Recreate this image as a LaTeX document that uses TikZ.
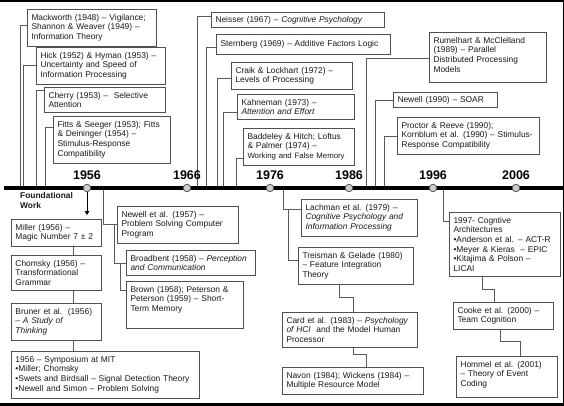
\documentclass[tikz,border=0pt]{standalone}
\usepackage{fontspec}
\setmainfont{Liberation Sans}
\usepackage{tikz}
\usetikzlibrary{arrows.meta, positioning, calc}
\definecolor{BoxGray}{RGB}{80,80,80}
\definecolor{LineGray}{RGB}{90,90,90}
\definecolor{DotGray}{RGB}{205,205,205}
\definecolor{InkGray}{RGB}{25,25,25}

\begin{document}
\begin{tikzpicture}[x=1pt, y=-1pt,
    bx/.style={draw=BoxGray, line width=0.8pt, anchor=north west, align=left,
      outer sep=0pt, text width=#1, inner xsep=4.5pt, inner ysep=5pt, text=InkGray,
      font=\fontsize{8.4}{9.7}\selectfont},
    conn/.style={draw=LineGray, line width=0.8pt},
    dot/.style={circle, draw=LineGray, fill=DotGray, line width=0.8pt,
      minimum size=7.5pt, inner sep=0pt},
    yearlbl/.style={font=\fontsize{12.5}{14}\selectfont\bfseries, text=black}]
  \useasboundingbox (0,0) rectangle (564,406);
  \fill[white] (0,0) rectangle (564,406);
  \fill[black] (0,0) rectangle (564,2.5);
  \fill[black] (0,402.5) rectangle (564,406);
  \draw[black, line width=1pt] (563,0) -- (563,406);

  % above the line
  \node[bx=120pt] (mack) at (27,9) {Mackworth (1948) -- Vigilance;\\Shannon \& Weaver (1949) --\\Information Theory};
  \node[bx=120pt] (hick) at (36,47) {Hick (1952) \& Hyman (1953) --\\Uncertainty and Speed of\\Information Processing};
  \node[bx=112pt] (cherry) at (44,87) {Cherry (1953) --\ \ Selective\\Attention};
  \node[bx=108pt] (fitts) at (53,116) {Fitts \& Seeger (1953); Fitts\\\& Deininger (1954) --\\Stimulus-Response\\Compatibility};
  \node[bx=164pt, inner ysep=4pt] (neisser) at (211,12) {Neisser (1967) -- \textit{Cognitive Psychology}};
  \node[bx=165pt, minimum height=20pt] (stern) at (216,34) {Sternberg (1969) -- Additive Factors Logic};
  \node[bx=112pt] (craik) at (231,62) {Craik \& Lockhart (1972) --\\Levels of Processing};
  \node[bx=108pt] (kahne) at (237,94) {Kahneman (1973) --\\\textit{Attention and Effort}};
  \node[bx=102pt] (badd) at (243,128) {Baddeley \& Hitch; Loftus\\\& Palmer (1974) --\\{\fontsize{7.8}{9.7}\selectfont Working and False Memory}};
  \node[bx=108pt, text depth=34.5pt] (rumel) at (429,32) {Rumelhart \& McClelland\\(1989) -- Parallel\\Distributed Processing\\Models};
  \node[bx=95pt, inner ysep=4pt] (newellb) at (393,92) {Newell (1990) -- SOAR};
  \node[bx=133pt] (proctor) at (397,117) {Proctor \& Reeve (1990);\\Kornblum et al. (1990) -- Stimulus-\\Response Compatibility};

  % below the line
  \node[bx=81pt] (miller) at (11,219) {Miller (1956) --\\Magic Number 7 ± 2};
  \node[bx=81pt] (chomsky) at (11,255) {Chomsky (1956) --\\Transformational\\Grammar};
  \node[bx=81pt] (bruner) at (11,303) {Bruner et al.\ \ (1956)\\\textit{-- A Study of}\\\textit{Thinking}};
  \node[bx=179pt] (sympo) at (11,351) {1956 -- Symposium at MIT\\•Miller; Chomsky\\•Swets and Birdsall -- Signal Detection Theory\\•Newell and Simon -- Problem Solving};
  \node[bx=112pt] (newella) at (117,206) {Newell et al. (1957) --\\Problem Solving Computer\\Program};
  \node[bx=120pt] (broad) at (126,250) {Broadbent (1958) -- \textit{Perception}\\\textit{and Communication}};
  \node[bx=108pt, text depth=31.5pt] (brown) at (126,281) {Brown (1958); Peterson \&\\Peterson (1959) -- Short-\\Term Memory};
  \node[bx=107pt] (lach) at (301,199) {Lachman et al. (1979) --\\\textit{Cognitive Psychology and}\\\textit{Information Processing}};
  \node[bx=106pt] (treis) at (298,247) {Treisman \& Gelade (1980)\\-- Feature Integration\\Theory};
  \node[bx=126pt] (card) at (282,312) {Card et al. (1983) -- \textit{Psychology}\\\textit{of HCI}\ \ and the Model Human\\Processor};
  \node[bx=132pt] (navon) at (282,367) {Navon (1984); Wickens (1984) --\\Multiple Resource Model};
  \node[bx=102pt] (arch) at (449,212) {1997- Cogntive\\Architectures\\•Anderson et al. -- ACT-R\\•Meyer \& Kieras\ \ -- EPIC\\•Kitajima \& Polson --\\LICAI};
  \node[bx=91pt] (cooke) at (453,302) {Cooke et al. (2000) --\\Team Cognition};
  \node[bx=92pt, text depth=25.5pt] (hommel) at (456,356) {Hommel et al. (2001)\\-- Theory of Event\\Coding};

  \coordinate (tMack) at (20,188);
  \coordinate (tHick) at (23,188);
  \coordinate (tCherry) at (36,188);
  \coordinate (tFitts) at (45,188);
  \coordinate (tNewellA) at (103,188);
  \coordinate (tNeisser) at (197,188);
  \coordinate (tStern) at (206,188);
  \coordinate (tCraik) at (217,188);
  \coordinate (tKahne) at (223,188);
  \coordinate (tBadd) at (236,188);
  \coordinate (tLach) at (283,188);
  \coordinate (tRumel) at (366,188);
  \coordinate (tNewellB) at (375,188);
  \coordinate (tProctor) at (384,188);
  \coordinate (tArch) at (443,188);
  \coordinate (kBroad) at (114,224);
  \coordinate (kBrown) at (120,263);
  \coordinate (kTreis) at (288,209);

  \draw[conn] (tMack) |- ([yshift=-16pt]mack.north west);
  \draw[conn] (tHick) |- ([yshift=-18pt]hick.north west);
  \draw[conn] (tCherry) |- ([yshift=-3pt]cherry.north west);
  \draw[conn] (tFitts) |- ([yshift=-11pt]fitts.north west);
  \draw[conn] (tNeisser) |- ([yshift=-4pt]neisser.north west);
  \draw[conn] (tStern) |- ([yshift=-13pt]stern.north west);
  \draw[conn] (tCraik) |- ([yshift=-16pt]craik.north west);
  \draw[conn] (tKahne) |- ([yshift=-18pt]kahne.north west);
  \draw[conn] (tBadd) |- ([yshift=-30pt]badd.north west);
  \draw[conn] (tRumel) |- ([yshift=-26pt]rumel.north west);
  \draw[conn] (tNewellB) |- ([yshift=-8pt]newellb.north west);
  \draw[conn] (tProctor) |- ([yshift=-19pt]proctor.north west);

  \draw[conn] (tNewellA) |- ([yshift=-18pt]newella.north west);
  \draw[conn] (kBroad) |- ([yshift=-13pt]broad.north west);
  \draw[conn] (kBrown) |- ([yshift=-9pt]brown.north west);
  \draw[conn] (tLach) |- ([yshift=-10pt]lach.north west);
  \draw[conn] (kTreis) |- ([yshift=-13pt]treis.north west);
  \draw[conn] (tArch) |- ([yshift=-9pt]arch.north west);

  \draw[conn] ([xshift=17pt]miller.south) -- ([xshift=17pt]chomsky.north);
  \draw[conn] ([xshift=17pt]chomsky.south) -- ([xshift=17pt]bruner.north);
  \draw[conn] ([xshift=17pt]bruner.south) -- ([xshift=17pt]bruner.south |- sympo.north);
  \draw[conn] ([xshift=-16.5pt]treis.south) -- ++(0,13) -| ([xshift=3.5pt]card.north);
  \draw[conn] ([xshift=3.5pt]card.south) -- ++(0,7) -| ([xshift=13.5pt]navon.north);
  \draw[conn] ([xshift=-22.5pt]arch.south) -- ++(0,13) -| ([xshift=-9pt]cooke.north);
  \draw[conn] ([xshift=-3pt]cooke.south) -- ++(0,12) -| ([xshift=13.5pt]hommel.north);

  % the time line
  \draw[black, line width=4.2pt] (4,188) -- (564,188);
  \foreach \x/\yr in {87/1956, 187/1966, 270/1976, 349/1986, 433/1996, 516/2006}{
    \node[dot] (d\yr) at (\x,188) {};
    \node[yearlbl] (l\yr) at (\x,175) {\yr};
  }
  \node[anchor=north west, inner sep=0pt, align=left, text=InkGray,
    font=\fontsize{8.4}{9.7}\selectfont\bfseries] (found) at (20,192.5) {Foundational\\Work};
  \draw[black, line width=0.8pt, -{Triangle[length=4pt, width=4.5pt]}, shorten >=4pt]
    (d1956) -- (d1956 |- miller.north);
\end{tikzpicture}
\end{document}
